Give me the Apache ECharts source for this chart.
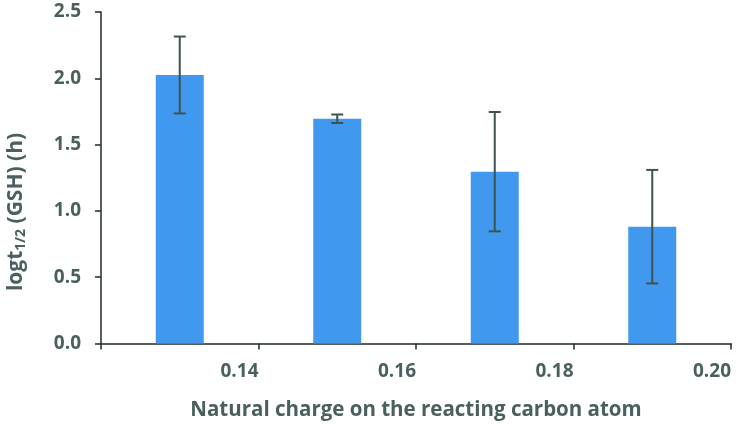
<!DOCTYPE html>
<html>
<head>
<meta charset="utf-8">
<script src="https://cdn.jsdelivr.net/npm/echarts@6/dist/echarts.min.js"></script>
<style>html,body{margin:0;padding:0;background:#fff}#c{width:736px;height:427px}</style>
</head>
<body>
<div id="c"></div>
<script>
var charges = [0.13, 0.15, 0.17, 0.19];
var logHalfLife = [2.025, 1.695, 1.296, 0.881];
var errors = [0.29, 0.032, 0.45, 0.428];
var xTicks = [0.14, 0.16, 0.18, 0.20];
var yTicks = [0.0, 0.5, 1.0, 1.5, 2.0, 2.5];

var textColor = '#4a605f';
var axisColor = '#1e2a2a';
var font = 'Open Sans';

var chart = echarts.init(document.getElementById('c'), null, {renderer: 'canvas'});
var barData = charges.map(function (x, i) { return [x, logHalfLife[i]]; });
var errData = charges.map(function (x, i) { return [x, logHalfLife[i] - errors[i], logHalfLife[i] + errors[i]]; });

chart.setOption({
  animation: false,
  grid: {left: 101, right: 5, top: 12, bottom: 83.5},
  xAxis: {
    type: 'value', min: 0.12, max: 0.20, interval: 0.02,
    splitLine: {show: false},
    axisLine: {show: true, lineStyle: {color: axisColor, width: 1.5}},
    axisTick: {show: true, length: 6, lineStyle: {color: axisColor, width: 1.5}},
    axisLabel: {
      color: textColor, fontFamily: font, fontWeight: 'bold', fontSize: 19,
      margin: 19, align: 'right',
      formatter: function (v) {
        for (var i = 0; i < xTicks.length; i++) { if (Math.abs(v - xTicks[i]) < 1e-9) return xTicks[i].toFixed(2); }
        return '';
      }
    },
    name: 'Natural charge on the reacting carbon atom',
    nameLocation: 'middle', nameGap: 56,
    nameTextStyle: {color: textColor, fontFamily: font, fontWeight: 'bold', fontSize: 20.5}
  },
  yAxis: {
    type: 'value', min: 0, max: 2.5, interval: 0.5,
    splitLine: {show: false},
    axisLine: {show: true, lineStyle: {color: axisColor, width: 1.5}},
    axisTick: {show: true, length: 6, lineStyle: {color: axisColor, width: 1.5}},
    axisLabel: {
      color: textColor, fontFamily: font, fontWeight: 'bold', fontSize: 19, margin: 20,
      formatter: function (v) { return v.toFixed(1); }
    }
  },
  graphic: [{
    type: 'text', x: 16, y: 212, rotation: Math.PI / 2,
    style: {
      text: '{a|logt}{s|1/2}{a| (GSH) (h)}',
      align: 'center', verticalAlign: 'middle',
      rich: {
        a: {fill: textColor, fontFamily: font, fontWeight: 'bold', fontSize: 21},
        s: {fill: textColor, fontFamily: font, fontWeight: 'bold', fontSize: 14, padding: [10, 0, 0, 0]}
      }
    }
  }],
  series: [{
    type: 'bar', data: barData, barWidth: 48,
    itemStyle: {color: '#4198ef'}
  }, {
    type: 'custom', data: errData,
    renderItem: function (params, api) {
      var lo = api.coord([api.value(0), api.value(1)]);
      var hi = api.coord([api.value(0), api.value(2)]);
      var hw = 6;
      var st = {stroke: '#3d5352', lineWidth: 2};
      return {type: 'group', children: [
        {type: 'line', shape: {x1: hi[0], y1: hi[1], x2: lo[0], y2: lo[1]}, style: st},
        {type: 'line', shape: {x1: hi[0] - hw, y1: hi[1], x2: hi[0] + hw, y2: hi[1]}, style: st},
        {type: 'line', shape: {x1: lo[0] - hw, y1: lo[1], x2: lo[0] + hw, y2: lo[1]}, style: st}
      ]};
    },
    z: 5
  }]
});
</script>
</body>
</html>
